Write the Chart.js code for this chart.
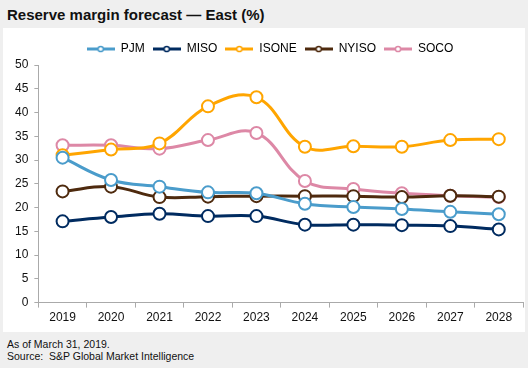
<!DOCTYPE html>
<html>
<head>
<meta charset="utf-8">
<script src="https://cdn.jsdelivr.net/npm/chart.js@4"></script>
<style>
  body { margin: 0; width: 528px; height: 368px; background: #efefef; font-family: 'Liberation Sans', Arial, sans-serif; position: relative; overflow: hidden; }
  #title { position: absolute; left: 7px; top: 6px; font-size: 15px; font-weight: bold; color: #111; }
  #panel { position: absolute; left: 3px; top: 28px; width: 522px; height: 304px; background: #fff; overflow: hidden; }
  #chart { position: absolute; left: 0; top: 0; }
  #foot { position: absolute; left: 7px; top: 338px; font-size: 10.5px; line-height: 12px; color: #111; }
</style>
</head>
<body>
<div id="title">Reserve margin forecast — East (%)</div>
<div id="panel"><canvas id="chart" width="528" height="304"></canvas></div>
<div id="foot">As of March 31, 2019.<br>Source:&nbsp; S&amp;P Global Market Intelligence</div>
<script>
'use strict';

let years = ['2019', '2020', '2021', '2022', '2023', '2024', '2025', '2026', '2027', '2028'];
let seriesNames = ['PJM', 'MISO', 'ISONE', 'NYISO', 'SOCO'];
let pjm = [30.5, 25.8, 24.4, 23.2, 23.0, 20.8, 20.1, 19.7, 19.1, 18.6];
let miso = [17.1, 18.0, 18.7, 18.2, 18.2, 16.4, 16.4, 16.3, 16.1, 15.4];
let isone = [31.0, 32.2, 33.5, 41.3, 43.2, 32.8, 32.9, 32.8, 34.2, 34.4];
let nyiso = [23.4, 24.4, 22.2, 22.3, 22.4, 22.4, 22.4, 22.2, 22.5, 22.3];
let soco = [33.1, 33.1, 32.4, 34.2, 35.7, 25.6, 23.9, 23.0, 22.5, 22.2];
let yTicks = [0, 5, 10, 15, 20, 25, 30, 35, 40, 45, 50];

let colors = ['#4a9ccb', '#002b60', '#ffa500', '#4e2a0e', '#dd88a6'];
let allData = [pjm, miso, isone, nyiso, soco];

function legendIcon(color) {
  let c = document.createElement('canvas');
  c.width = 28;
  c.height = 10;
  let g = c.getContext('2d');
  g.strokeStyle = color;
  g.lineWidth = 3;
  g.beginPath();
  g.moveTo(0, 5);
  g.lineTo(28, 5);
  g.stroke();
  g.fillStyle = '#fff';
  g.lineWidth = 1.5;
  g.beginPath();
  g.arc(14, 5, 2.6, 0, Math.PI * 2);
  g.fill();
  g.stroke();
  return c;
}

let datasets = seriesNames.map(function (name, i) {
  return {
    label: name,
    data: allData[i],
    borderColor: colors[i],
    backgroundColor: '#fff',
    borderWidth: 3,
    pointRadius: 6,
    pointBorderWidth: 2,
    pointBackgroundColor: '#fff',
    pointBorderColor: colors[i],
    tension: 0.4
  };
});

let ctx = document.getElementById('chart').getContext('2d');

new Chart(ctx, {
  type: 'line',
  data: { labels: years, datasets: datasets },
  options: {
    responsive: false,
    animation: false,
    layout: { padding: { left: 6, right: 0, top: 7, bottom: 4 } },
    plugins: {
      tooltip: { enabled: false },
      legend: {
        position: 'top',
        labels: {
          usePointStyle: true,
          pointStyleWidth: 28,
          boxHeight: 10,
          padding: 8,
          color: '#111',
          font: { family: "'Liberation Sans', Arial, sans-serif", size: 12 },
          generateLabels: function (chart) {
            return chart.data.datasets.map(function (ds, i) {
              return {
                text: ds.label,
                pointStyle: legendIcon(colors[i]),
                fillStyle: colors[i],
                strokeStyle: colors[i],
                lineWidth: 0,
                hidden: false,
                datasetIndex: i
              };
            });
          }
        }
      }
    },
    scales: {
      x: {
        offset: true,
        grid: { offset: true, drawOnChartArea: false, tickLength: 5, color: '#aaa' },
        border: { color: '#aaa' },
        ticks: { color: '#111', padding: 3, font: { family: "'Liberation Sans', Arial, sans-serif", size: 12 } }
      },
      y: {
        min: 0,
        max: 50,
        afterBuildTicks: function (axis) {
          axis.ticks = yTicks.map(function (v) { return { value: v }; });
        },
        grid: { drawOnChartArea: false, tickLength: 4, color: '#aaa' },
        border: { color: '#aaa' },
        ticks: { color: '#111', padding: 6, font: { family: "'Liberation Sans', Arial, sans-serif", size: 12 } }
      }
    }
  }
});
</script>
</body>
</html>
